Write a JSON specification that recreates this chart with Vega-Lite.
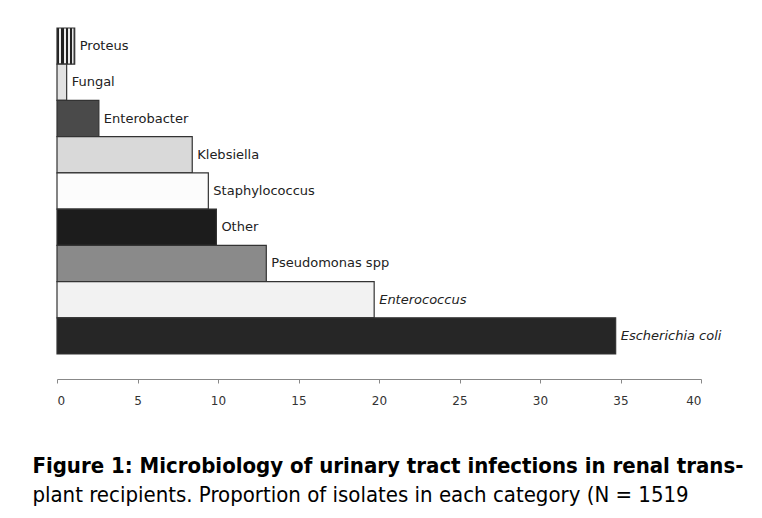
{
  "$schema": "https://vega.github.io/schema/vega-lite/v6.json",
  "width": 644,
  "height": 326,
  "autosize": {"type": "none"},
  "padding": {"left": 57, "top": 28, "right": 61, "bottom": 164},
  "background": "white",
  "config": {"view": {"stroke": null}},
  "title": {
    "text": "Figure 1: Microbiology of urinary tract infections in renal trans-",
    "subtitle": "plant recipients. Proportion of isolates in each category (N = 1519",
    "orient": "bottom",
    "anchor": "start",
    "dx": -24,
    "offset": 50,
    "font": "DejaVu Sans Condensed",
    "fontSize": 22,
    "fontWeight": "bold",
    "color": "#000",
    "subtitleFont": "DejaVu Sans Condensed",
    "subtitleFontSize": 22,
    "subtitleFontWeight": "normal",
    "subtitleColor": "#000",
    "subtitlePadding": 7
  },
  "data": {
    "values": [
      {"organism": "Proteus", "percent": 1.1},
      {"organism": "Fungal", "percent": 0.6},
      {"organism": "Enterobacter", "percent": 2.6},
      {"organism": "Klebsiella", "percent": 8.4},
      {"organism": "Staphylococcus", "percent": 9.4},
      {"organism": "Other", "percent": 9.9},
      {"organism": "Pseudomonas spp", "percent": 13.0},
      {"organism": "Enterococcus", "percent": 19.7},
      {"organism": "Escherichia coli", "percent": 34.7}
    ]
  },
  "encoding": {
    "y": {
      "field": "organism",
      "type": "nominal",
      "sort": ["Proteus", "Fungal", "Enterobacter", "Klebsiella", "Staphylococcus", "Other", "Pseudomonas spp", "Enterococcus", "Escherichia coli"],
      "scale": {"paddingInner": 0, "paddingOuter": 0},
      "axis": null
    },
    "x": {
      "field": "percent",
      "type": "quantitative",
      "scale": {"domain": [0, 40], "nice": false},
      "axis": {
        "values": [0, 5, 10, 15, 20, 25, 30, 35, 40],
        "offset": 25,
        "grid": false,
        "title": null,
        "domainColor": "#888",
        "tickColor": "#888",
        "tickSize": 4,
        "labelFont": "DejaVu Sans",
        "labelFontSize": 12,
        "labelColor": "#333",
        "labelPadding": 12
      }
    }
  },
  "layer": [
    {
      "mark": {"type": "bar", "stroke": "#333", "strokeWidth": 1.2},
      "encoding": {
        "fill": {
          "condition": {
            "test": "datum.organism === 'Proteus'",
            "value": {
              "gradient": "linear", "x1": 0, "x2": 1, "y1": 0, "y2": 0,
              "stops": [
                {"offset": 0, "color": "#222"}, {"offset": 0.12, "color": "#222"},
                {"offset": 0.12, "color": "#eee"}, {"offset": 0.25, "color": "#eee"},
                {"offset": 0.25, "color": "#222"}, {"offset": 0.37, "color": "#222"},
                {"offset": 0.37, "color": "#eee"}, {"offset": 0.5, "color": "#eee"},
                {"offset": 0.5, "color": "#222"}, {"offset": 0.62, "color": "#222"},
                {"offset": 0.62, "color": "#eee"}, {"offset": 0.75, "color": "#eee"},
                {"offset": 0.75, "color": "#222"}, {"offset": 0.87, "color": "#222"},
                {"offset": 0.87, "color": "#eee"}, {"offset": 1, "color": "#333"}
              ]
            }
          },
          "field": "organism",
          "type": "nominal",
          "legend": null,
          "scale": {
            "domain": ["Proteus", "Fungal", "Enterobacter", "Klebsiella", "Staphylococcus", "Other", "Pseudomonas spp", "Enterococcus", "Escherichia coli"],
            "range": ["#777777", "#e2e2e2", "#4a4a4a", "#d9d9d9", "#fcfcfc", "#1c1c1c", "#8a8a8a", "#f2f2f2", "#262626"]
          }
        }
      }
    },
    {
      "transform": [{"filter": "datum.organism !== 'Enterococcus' && datum.organism !== 'Escherichia coli'"}],
      "mark": {"type": "text", "align": "left", "baseline": "middle", "dx": 5, "font": "DejaVu Sans", "fontSize": 13, "color": "#222"},
      "encoding": {"text": {"field": "organism"}}
    },
    {
      "transform": [{"filter": "datum.organism === 'Enterococcus' || datum.organism === 'Escherichia coli'"}],
      "mark": {"type": "text", "align": "left", "baseline": "middle", "dx": 5, "font": "DejaVu Sans", "fontSize": 13, "fontStyle": "italic", "color": "#222"},
      "encoding": {"text": {"field": "organism"}}
    }
  ]
}
